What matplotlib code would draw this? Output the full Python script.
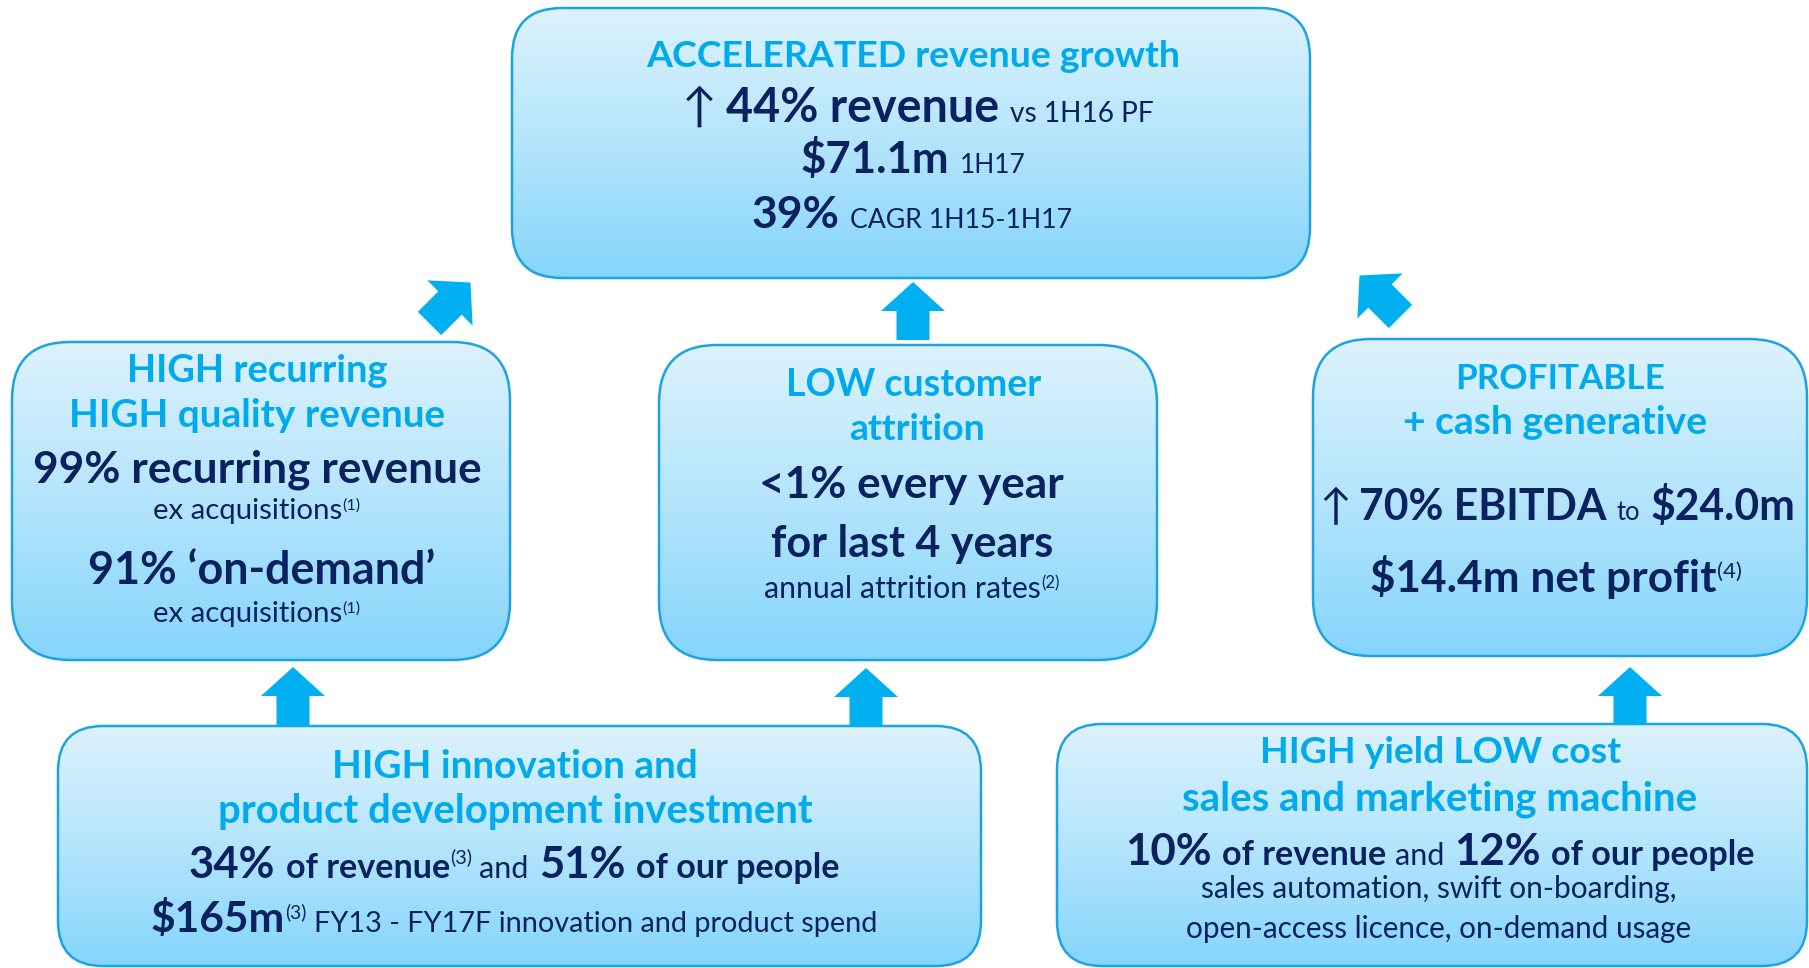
import numpy as np
import matplotlib.pyplot as plt
from matplotlib.patches import FancyBboxPatch, Polygon
from matplotlib.colors import LinearSegmentedColormap

# ---- text content of each box: (text, relative size, style) ----
# styles: T = light blue title, B = bold navy, r = regular navy, s = superscript, a = arrow glyph
top_lines = [
    [("ACCELERATED revenue growth", 1.0, "T")],
    [("↑", 1.0, "a"), ("44% revenue", 1.0, "B"), ("vs 1H16 PF", 0.6, "r")],
    [("$71.1m", 1.0, "B"), ("1H17", 0.6, "r")],
    [("39%", 1.0, "B"), ("CAGR 1H15-1H17", 0.6, "r")],
]
left_lines = [
    [("HIGH recurring", 1.0, "T")],
    [("HIGH quality revenue", 1.0, "T")],
    [("99% recurring revenue", 1.0, "B")],
    [("ex acquisitions", 1.0, "r"), ("(1)", 0.55, "s")],
    [("91% \u2018on-demand\u2019", 1.0, "B")],
    [("ex acquisitions", 1.0, "r"), ("(1)", 0.55, "s")],
]
mid_lines = [
    [("LOW customer", 1.0, "T")],
    [("attrition", 1.0, "T")],
    [("<1% every year", 1.0, "B")],
    [("for last 4 years", 1.0, "B")],
    [("annual attrition rates", 1.0, "r"), ("(2)", 0.55, "s")],
]
right_lines = [
    [("PROFITABLE", 1.0, "T")],
    [("+ cash generative", 1.0, "T")],
    [("↑", 1.0, "a"), ("70% EBITDA", 1.0, "B"), ("to", 0.6, "r"), ("$24.0m", 1.0, "B")],
    [("$14.4m net profit", 1.0, "B"), ("(4)", 0.5, "s")],
]
botl_lines = [
    [("HIGH innovation and", 1.0, "T")],
    [("product development investment", 1.0, "T")],
    [("34%", 1.0, "B"), ("of revenue", 0.78, "B"), ("(3)", 0.45, "s"), ("and", 0.7, "r"),
     ("51%", 1.0, "B"), ("of our people", 0.78, "B")],
    [("$165m", 1.0, "B"), ("(3)", 0.45, "s"), ("FY13 - FY17F innovation and product spend", 0.68, "r")],
]
botr_lines = [
    [("HIGH yield LOW cost", 1.0, "T")],
    [("sales and marketing machine", 1.0, "T")],
    [("10%", 1.0, "B"), ("of revenue", 0.78, "B"), ("and", 0.7, "r"),
     ("12%", 1.0, "B"), ("of our people", 0.78, "B")],
    [("sales automation, swift on-boarding,", 1.0, "r")],
    [("open-access licence, on-demand usage", 1.0, "r")],
]

FONT = ["Lato", "DejaVu Sans"]
LIGHT = "#00AAEC"
NAVY = "#0B2160"
ARROW = "#00B0F0"
EDGE = "#1CA3E2"

W, H = 1809, 968
fig = plt.figure(figsize=(W / 100, H / 100), dpi=100)
ax = fig.add_axes([0, 0, 1, 1])
ax.axis("off")
cmap = LinearSegmentedColormap.from_list("box", ["#DDF2FD", "#B4E5FC", "#85D5FB"])
grad = np.linspace(0, 1, 256).reshape(-1, 1)


def box(x0, y0, x1, y1, r):
    p = FancyBboxPatch((x0, y0), x1 - x0, y1 - y0, boxstyle=f"round,pad=0,rounding_size={r}",
                       facecolor="none", edgecolor=EDGE, linewidth=1.8, zorder=3)
    ax.add_patch(p)
    im = ax.imshow(grad, extent=(x0, x1, y1, y0), cmap=cmap, aspect="auto", zorder=2)
    im.set_clip_path(p)


def arrow(cx, cy, ang, L=58, hw=64, hl=29, sw=33):
    pts = np.array([(-sw / 2, -L / 2), (sw / 2, -L / 2), (sw / 2, L / 2 - hl), (hw / 2, L / 2 - hl),
                    (0, L / 2), (-hw / 2, L / 2 - hl), (-sw / 2, L / 2 - hl)])
    a = np.radians(ang)
    rx = pts[:, 0] * np.cos(a) - pts[:, 1] * np.sin(a)
    ry = pts[:, 0] * np.sin(a) + pts[:, 1] * np.cos(a)
    ax.add_patch(Polygon(np.column_stack([cx + rx, cy - ry]), closed=True,
                         facecolor=ARROW, edgecolor="none", zorder=4))


renderer = fig.canvas.get_renderer()


def draw_line(runs, cx, base, width, base_pt=30):
    objs = []
    for text, rel, st in runs:
        color = LIGHT if st == "T" else NAVY
        weight = "bold" if st in ("T", "B") else "normal"
        t = ax.text(0, base, text, fontsize=base_pt * rel, fontweight=weight, color=color,
                    family=FONT, va="baseline", ha="left", zorder=5)
        objs.append((t, rel, st))

    def gaps(k):
        g = []
        for i, (t, rel, st) in enumerate(objs):
            if i == 0 or st == "s":
                g.append(0)
            elif objs[i - 1][2] == "a":
                g.append(0.18 * base_pt * k * 100 / 72)
            else:
                prev = objs[i - 1][1] if objs[i - 1][2] != "s" else rel
                g.append(0.24 * base_pt * max(prev, rel) * k * 100 / 72)
        return g

    widths = [t.get_window_extent(renderer).width for t, _, _ in objs]
    k = width / (sum(widths) + sum(gaps(1)))
    for t, rel, st in objs:
        t.set_fontsize(base_pt * rel * k)
    widths = [t.get_window_extent(renderer).width for t, _, _ in objs]
    g = gaps(k)
    x = cx - (sum(widths) + sum(g)) / 2
    em = base_pt * k * 100 / 72
    for (t, rel, st), w, gp in zip(objs, widths, g):
        x += gp
        y = base - 0.33 * em if st == "s" else base
        t.set_position((x, y))
        x += w


# boxes
box(512, 8, 1310, 278, 50)
box(12, 342, 510, 660, 58)
box(659, 345, 1157, 660, 58)
box(1313, 339, 1807, 656, 58)
box(58, 726, 981, 966, 45)
box(1057, 724, 1807, 966, 45)

# arrows
arrow(913, 311, 0)
arrow(450, 303, -45)
arrow(1380, 296, 45)
arrow(293, 696, 0)
arrow(866, 697, 0)
arrow(1630, 696, 0)

# text: (center x, baseline, width) per line
draw_line(top_lines[0], 913, 67, 534)
draw_line(top_lines[1], 918, 122, 471)
draw_line(top_lines[2], 913, 173, 225)
draw_line(top_lines[3], 912, 228, 320)

draw_line(left_lines[0], 257, 382, 260)
draw_line(left_lines[1], 257, 427, 377)
draw_line(left_lines[2], 257, 482, 447)
draw_line(left_lines[3], 257, 519, 207)
draw_line(left_lines[4], 262, 584, 347)
draw_line(left_lines[5], 257, 622, 207)

draw_line(mid_lines[0], 914, 396, 256)
draw_line(mid_lines[1], 917, 440, 136)
draw_line(mid_lines[2], 911, 498, 304)
draw_line(mid_lines[3], 912, 557, 282)
draw_line(mid_lines[4], 912, 598, 294)

draw_line(right_lines[0], 1560, 389, 209)
draw_line(right_lines[1], 1555, 434, 303)
draw_line(right_lines[2], 1557, 520, 475)
draw_line(right_lines[3], 1556, 592, 371)

draw_line(botl_lines[0], 515, 778, 366)
draw_line(botl_lines[1], 515, 823, 593)
draw_line(botl_lines[2], 514, 878, 652)
draw_line(botl_lines[3], 514, 932, 729)

draw_line(botr_lines[0], 1441, 763, 361)
draw_line(botr_lines[1], 1440, 810, 514)
draw_line(botr_lines[2], 1440, 865, 630)
draw_line(botr_lines[3], 1439, 898, 475)
draw_line(botr_lines[4], 1439, 938, 505)

ax.set_xlim(0, W)
ax.set_ylim(H, 0)
fig.savefig("out.png", dpi=100, facecolor="white")
